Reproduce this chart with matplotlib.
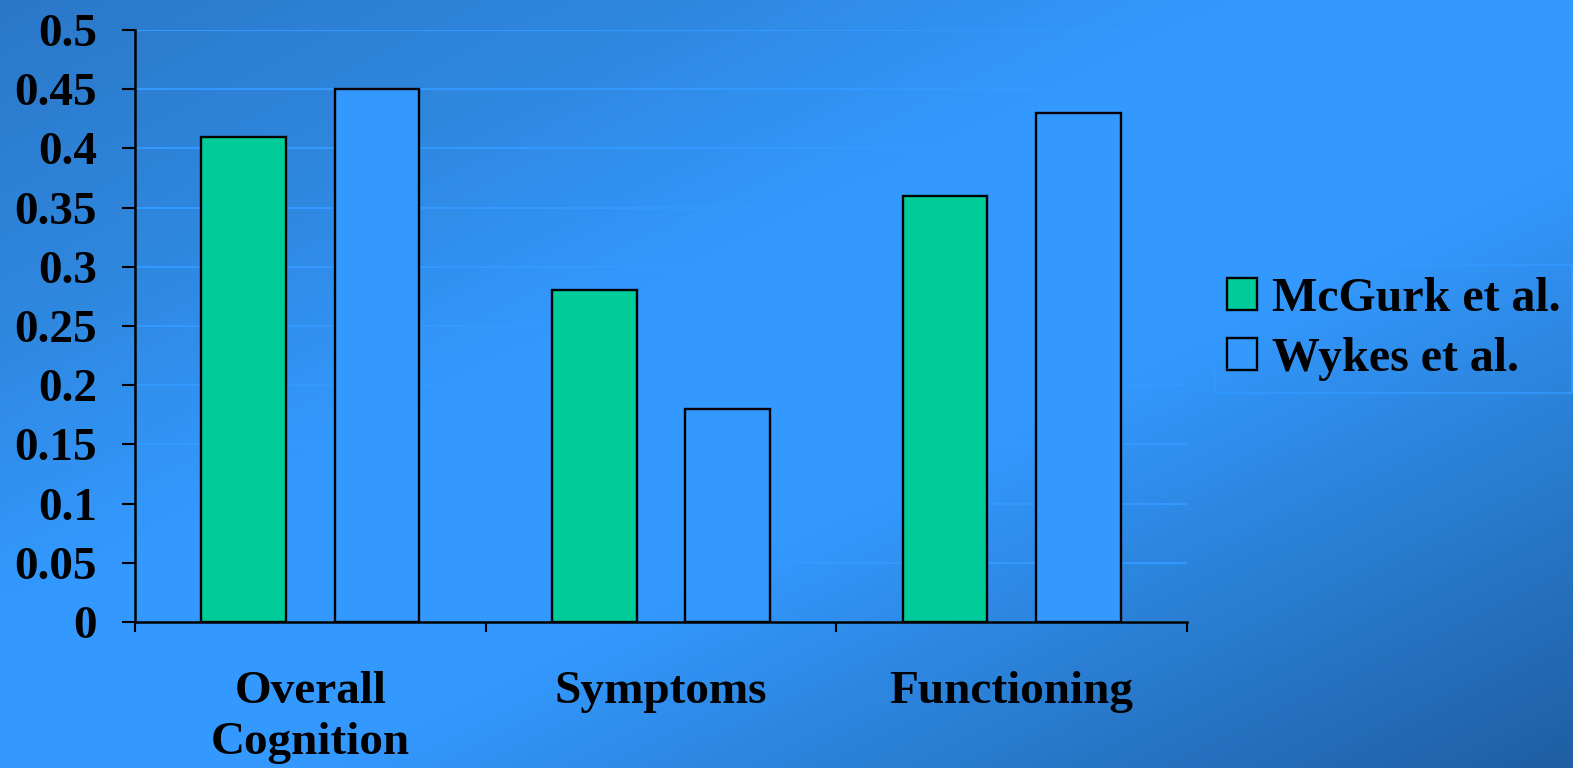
import numpy as np
import matplotlib.pyplot as plt
from matplotlib.colors import LinearSegmentedColormap

categories = ["Overall\nCognition", "Symptoms", "Functioning"]
mcgurk = [0.41, 0.28, 0.36]
wykes = [0.45, 0.18, 0.43]
series_names = ["McGurk et al.", "Wykes et al."]
yticks = [0, 0.05, 0.1, 0.15, 0.2, 0.25, 0.3, 0.35, 0.4, 0.45, 0.5]
ytick_labels = ["0", "0.05", "0.1", "0.15", "0.2", "0.25", "0.3", "0.35", "0.4", "0.45", "0.5"]

plt.rcParams['font.family'] = ['Liberation Serif', 'DejaVu Serif']
plt.rcParams['font.weight'] = 'bold'

fig = plt.figure(figsize=(15.73, 7.68), dpi=100)

# diagonal blue gradient background
bg = fig.add_axes([0, 0, 1, 1], zorder=-10)
gx, gy = np.meshgrid(np.linspace(0, 1, 400), np.linspace(0, 1, 200))
d = (gx + gy) / 2
cmap = LinearSegmentedColormap.from_list(
    "bg", [(0.0, "#2b78c8"), (0.22, "#2f88e0"), (0.4, "#3399ff"),
           (0.6, "#3399ff"), (0.78, "#2a7fd4"), (1.0, "#1f5fa3")])
bg.imshow(d, cmap=cmap, aspect='auto', extent=[0, 1, 1, 0], vmin=0, vmax=1)
bg.set_axis_off()

ax = fig.add_axes([135/1573, 1 - 622/768, (1187-135)/1573, (622-30)/768])
ax.patch.set_alpha(0)

x = np.arange(len(categories))
w = 0.242
ax.bar(x - 0.19, mcgurk, w, color="#00cc99", edgecolor="black", linewidth=1.7, label=series_names[0], zorder=3)
ax.bar(x + 0.19, wykes, w, color="#3399ff", edgecolor="black", linewidth=1.7, label=series_names[1], zorder=3)

ax.set_xlim(-0.5, 2.5)
ax.set_ylim(0, 0.5)
ax.set_yticks(yticks)
ax.set_yticklabels(ytick_labels, fontsize=34, fontweight='bold')
ax.set_xticks(x)
ax.set_xticklabels(categories, fontsize=34, fontweight='bold', linespacing=1.3)
ax.set_xticks([-0.5, 0.5, 1.5, 2.5], minor=True)
ax.tick_params(axis='x', which='major', length=0, pad=35)
ax.tick_params(axis='x', which='minor', length=7, width=1.5, direction='out')
ax.tick_params(axis='y', length=9.5, width=1.5, pad=18)

ax.grid(axis='y', color="#3399ff", linewidth=1.5, zorder=0)
for s in ['top', 'right']:
    ax.spines[s].set_visible(False)
for s in ['left', 'bottom']:
    ax.spines[s].set_linewidth(1.8)
    ax.spines[s].set_zorder(4)

leg = fig.legend(loc='upper left', bbox_to_anchor=(1215/1573, 1 - 265/768),
                 prop={'family': 'Liberation Serif', 'weight': 'bold', 'size': 34.5},
                 frameon=True, fancybox=False, handlelength=0.63, handleheight=0.63,
                 handletextpad=0.3, borderpad=0.25, labelspacing=0.33,
                 borderaxespad=0)
leg.get_frame().set_facecolor('none')
leg.get_frame().set_edgecolor("#3399ff")
leg.get_frame().set_linewidth(1.5)
for h in leg.legend_handles:
    h.set_linewidth(1.7)

plt.savefig("out.png", dpi=100)
